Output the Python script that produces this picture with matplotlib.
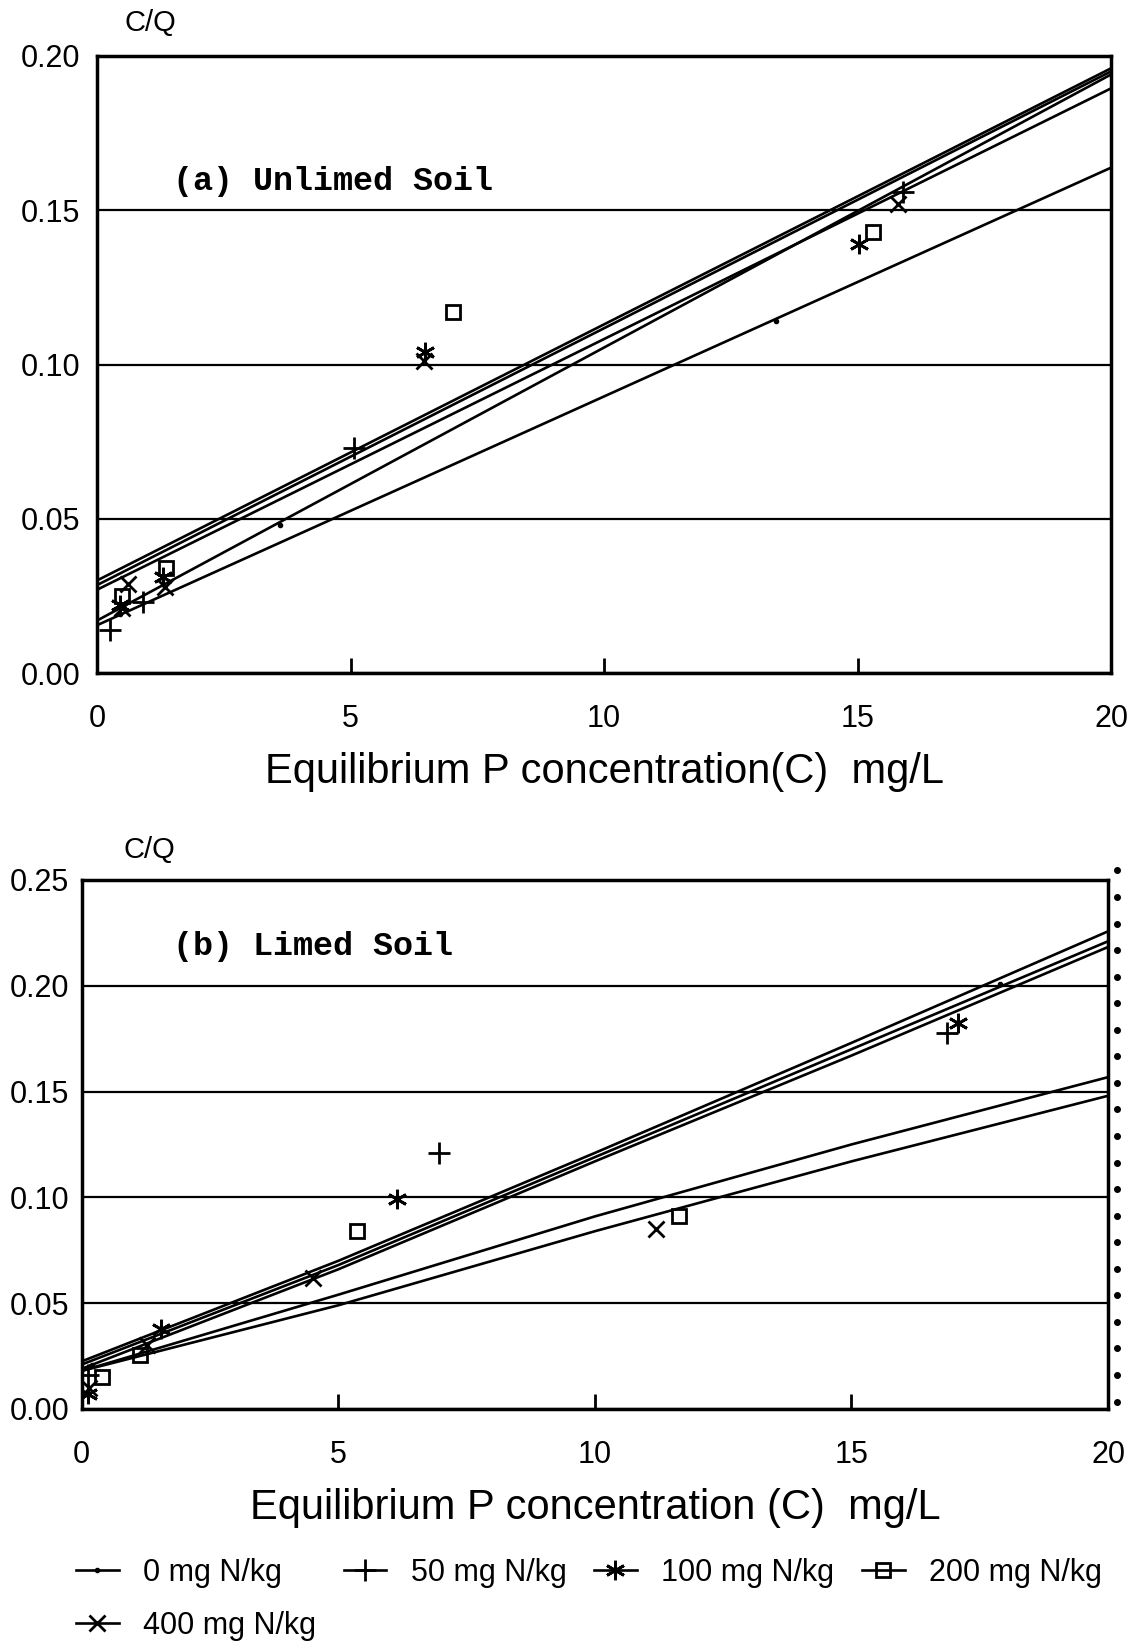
import matplotlib
matplotlib.use("Agg")
from matplotlib import pyplot as plt
from matplotlib.lines import Line2D

# ---------------- panel (a) unlimed soil ----------------
# fitted lines, C/Q read at C = 0 and C = 20
a_line_c = [0, 20]
a_fit_0 = [0.0155, 0.1638]
a_fit_50 = [0.0285, 0.1950]
a_fit_100 = [0.0300, 0.1960]
a_fit_200 = [0.0270, 0.1895]
a_fit_400 = [0.0170, 0.1940]

# measured points
a_c_0, a_q_0 = [0.45, 3.6, 13.4], [0.019, 0.048, 0.114]
a_c_50, a_q_50 = [0.26, 0.91, 5.06, 15.9], [0.014, 0.023, 0.073, 0.156]
a_c_100, a_q_100 = [0.45, 1.31, 6.47, 15.02], [0.022, 0.031, 0.104, 0.139]
a_c_200, a_q_200 = [0.5, 1.37, 7.02, 15.3], [0.025, 0.034, 0.117, 0.143]
a_c_400, a_q_400 = [0.5, 0.62, 1.35, 6.45, 15.8], [0.021, 0.029, 0.028, 0.101, 0.152]

# ---------------- panel (b) limed soil ----------------
b_line_c = [0, 5, 10, 15, 20]
b_fit_0 = [0.0225, 0.070, 0.121, 0.173, 0.2257]
b_fit_50 = [0.021, 0.068, 0.119, 0.170, 0.2210]
b_fit_100 = [0.019, 0.066, 0.117, 0.167, 0.2183]
b_fit_200 = [0.018, 0.054, 0.091, 0.125, 0.1568]
b_fit_400 = [0.018, 0.049, 0.084, 0.117, 0.1480]

b_c_0, b_q_0 = [0.2, 17.9], [0.021, 0.201]
b_c_50, b_q_50 = [0.12, 6.96, 16.86], [0.016, 0.121, 0.1776]
b_c_100, b_q_100 = [0.13, 1.54, 6.14, 17.08], [0.007, 0.038, 0.099, 0.1825]
b_c_200, b_q_200 = [0.39, 1.14, 5.36, 11.64], [0.015, 0.0254, 0.084, 0.091]
b_c_400, b_q_400 = [0.15, 1.27, 4.51, 11.2], [0.010, 0.030, 0.062, 0.085]

x_ticks = [0, 5, 10, 15, 20]
a_y_ticks = [0.0, 0.05, 0.10, 0.15, 0.20]
b_y_ticks = [0.0, 0.05, 0.10, 0.15, 0.20, 0.25]
keys = ["0", "50", "100", "200", "400"]
labels = ["0 mg N/kg", "50 mg N/kg", "100 mg N/kg", "200 mg N/kg", "400 mg N/kg"]

plt.rcParams["font.family"] = ["Liberation Sans", "DejaVu Sans"]

marker_kw = {
    "0": dict(marker=".", ms=6),
    "50": dict(marker="+", ms=16, mew=2),
    "100": dict(marker=(6, 2, 0), ms=14, mew=2),
    "200": dict(marker="s", ms=10, mew=2, mfc="none"),
    "400": dict(marker="x", ms=12, mew=2),
}

fig = plt.figure(figsize=(11.32, 16.46), dpi=100)


def draw_panel(ax, line_c, fits, points, yticks, title, title_xy, cq_x, xlabel, ypad):
    for f in fits:
        ax.plot(line_c, f, color="k", lw=1.9, zorder=3)
    for key, (c, q) in points.items():
        ax.plot(c, q, ls="none", color="k", zorder=4, **marker_kw[key])
    ax.set_xlim(0, 20)
    ax.set_ylim(yticks[0], yticks[-1])
    ax.set_xticks(x_ticks)
    ax.set_xticklabels([str(t) for t in x_ticks])
    ax.set_yticks(yticks)
    ax.set_yticklabels(["%.2f" % t for t in yticks])
    ax.tick_params(axis="x", direction="in", length=11, width=2, pad=22, labelsize=22)
    ax.tick_params(axis="y", length=0, pad=ypad, labelsize=22)
    ax.yaxis.grid(True, color="k", lw=1.6)
    ax.set_axisbelow(True)
    for s in ax.spines.values():
        s.set_linewidth(2.5)
    ax.text(title_xy[0], title_xy[1], title, transform=ax.transAxes, family="Liberation Mono",
            weight="bold", fontsize=24, va="center")
    ax.set_xlabel(xlabel, fontsize=30, labelpad=13)
    ax.text(cq_x, 1.03, "C/Q", transform=ax.transAxes, fontsize=21, va="bottom")


ax1 = fig.add_axes([0.0857, 0.5911, 0.8958, 0.3749])
draw_panel(ax1, a_line_c,
           [a_fit_0, a_fit_50, a_fit_100, a_fit_200, a_fit_400],
           {"0": (a_c_0, a_q_0), "50": (a_c_50, a_q_50), "100": (a_c_100, a_q_100),
            "200": (a_c_200, a_q_200), "400": (a_c_400, a_q_400)},
           a_y_ticks, "(a) Unlimed Soil", (0.075, 0.796), 0.027,
           "Equilibrium P concentration(C)  mg/L", 12)

ax2 = fig.add_axes([0.0722, 0.1440, 0.9066, 0.3214])
draw_panel(ax2, b_line_c,
           [b_fit_0, b_fit_50, b_fit_100, b_fit_200, b_fit_400],
           {"0": (b_c_0, b_q_0), "50": (b_c_50, b_q_50), "100": (b_c_100, b_q_100),
            "200": (b_c_200, b_q_200), "400": (b_c_400, b_q_400)},
           b_y_ticks, "(b) Limed Soil", (0.089, 0.875), 0.041,
           "Equilibrium P concentration (C)  mg/L", 9)

# dotted column along the right edge of the lower frame
n_dots = 21
ax2.plot([1.009] * n_dots, [1.018 - i * (1.004 / (n_dots - 1)) for i in range(n_dots)],
         ls="none", marker="o", ms=4, color="k", transform=ax2.transAxes, clip_on=False)

handles = {k: Line2D([], [], color="k", lw=1.9, **v) for k, v in marker_kw.items()}
order = ["0", "400", "50", "100", "200"]
fig.legend([handles[k] for k in order], [labels[keys.index(k)] for k in order],
           loc="upper left", bbox_to_anchor=(0.067, 0.0535), ncol=4, frameon=False,
           fontsize=22, handlelength=1.4, handletextpad=0.8, columnspacing=0.9,
           labelspacing=0.75, borderpad=0, borderaxespad=0)

fig.savefig("out.png", dpi=100, facecolor="white")
